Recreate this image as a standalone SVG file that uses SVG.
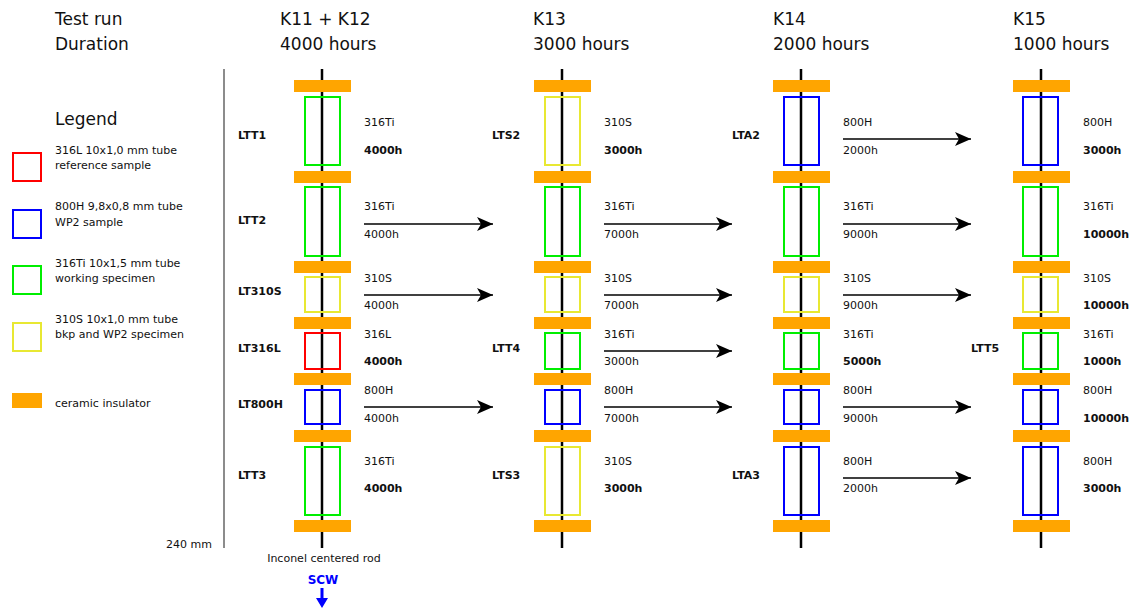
<svg xmlns="http://www.w3.org/2000/svg" width="1137" height="608" viewBox="0 0 1137 608">
  <style>
    text { font-family: "DejaVu Sans", Verdana, sans-serif; fill: #111; }
    .hd { font-size: 17px; }
    .sm { font-size: 11px; }
    .lg { font-size: 11px; }
    .id { font-size: 11px; font-weight: bold; }
    .b { font-weight: bold; }
    .rod { stroke: #000; stroke-width: 2.5; }
    .ins { fill: #ffa500; }
    .red { fill: none; stroke: #ff0000; stroke-width: 2; }
    .blu { fill: none; stroke: #0000ff; stroke-width: 2; }
    .grn { fill: none; stroke: #00ee00; stroke-width: 2; }
    .yel { fill: none; stroke: #e8e832; stroke-width: 2; }
    .arr { stroke: #000; stroke-width: 1.3; fill: none; marker-end: url(#ah); }
  </style>
  <defs>
    <marker id="ah" viewBox="0 0 16 14" refX="16" refY="7" markerWidth="16" markerHeight="14" markerUnits="userSpaceOnUse" orient="auto">
      <path d="M0,0 L16,7 L0,14 L4,7 Z" fill="#000"/>
    </marker>
    <!-- insulator stack shared by every column -->
    <g id="stack">
      <line class="rod" x1="0" y1="69" x2="0" y2="548"/>
      <rect class="ins" x="-28" y="80" width="57" height="12"/>
      <rect class="ins" x="-28" y="171" width="57" height="12"/>
      <rect class="ins" x="-28" y="261" width="57" height="12"/>
      <rect class="ins" x="-28" y="317" width="57" height="12"/>
      <rect class="ins" x="-28" y="373" width="57" height="12"/>
      <rect class="ins" x="-28" y="430" width="57" height="12"/>
      <rect class="ins" x="-28" y="520" width="57" height="12"/>
    </g>
  </defs>

  <!-- headers -->
  <g id="headers">
    <text class="hd" x="55" y="25">Test run</text>
    <text class="hd" x="55" y="50">Duration</text>
    <text class="hd" x="280" y="25">K11 + K12</text>
    <text class="hd" x="280" y="50">4000 hours</text>
    <text class="hd" x="533" y="25">K13</text>
    <text class="hd" x="533" y="50">3000 hours</text>
    <text class="hd" x="773" y="25">K14</text>
    <text class="hd" x="773" y="50">2000 hours</text>
    <text class="hd" x="1013" y="25">K15</text>
    <text class="hd" x="1013" y="50">1000 hours</text>
  </g>

  <!-- legend -->
  <g id="legend">
    <text class="hd" x="55" y="125">Legend</text>
    <rect class="red" x="13" y="153" width="28" height="28"/>
    <text class="lg" x="55" y="154">316L 10x1,0 mm tube</text>
    <text class="lg" x="55" y="169">reference sample</text>
    <rect class="blu" x="13" y="210" width="28" height="28"/>
    <text class="lg" x="55" y="210">800H 9,8x0,8 mm tube</text>
    <text class="lg" x="55" y="226">WP2 sample</text>
    <rect class="grn" x="13" y="266" width="28" height="28"/>
    <text class="lg" x="55" y="267">316Ti 10x1,5 mm tube</text>
    <text class="lg" x="55" y="282">working specimen</text>
    <rect class="yel" x="13" y="323" width="28" height="28"/>
    <text class="lg" x="55" y="323">310S 10x1,0 mm tube</text>
    <text class="lg" x="55" y="338">bkp and WP2 specimen</text>
    <rect class="ins" x="12" y="393" width="30" height="15"/>
    <text class="lg" x="55" y="407">ceramic insulator</text>
  </g>

  <!-- divider and scale -->
  <g id="scale">
    <line x1="224" y1="69" x2="224" y2="548" stroke="#666" stroke-width="1.5"/>
    <text class="sm" x="166" y="548">240 mm</text>
    <text class="sm" x="324" y="562" text-anchor="middle">Inconel centered rod</text>
    <text x="323" y="584" text-anchor="middle" style="font-size:12px;font-weight:bold;fill:#0000ff">SCW</text>
    <path d="M320.5,588 L323.5,588 L323.5,598 L328,598 L322,608 L316,598 L320.5,598 Z" fill="#0000ff"/>
  </g>

  <!-- column K11 + K12 -->
  <g id="col-k11k12">
    <use href="#stack" x="322"/>
    <rect class="grn" x="305" y="97" width="35" height="68"/>
    <rect class="grn" x="305" y="187" width="35" height="69"/>
    <rect class="yel" x="305" y="277" width="35" height="35"/>
    <rect class="red" x="305" y="333" width="35" height="36"/>
    <rect class="blu" x="305" y="390" width="35" height="34"/>
    <rect class="grn" x="305" y="447" width="35" height="68"/>
    <text class="id" x="238" y="139">LTT1</text>
    <text class="id" x="238" y="224">LTT2</text>
    <text class="id" x="238" y="295">LT310S</text>
    <text class="id" x="238" y="352">LT316L</text>
    <text class="id" x="238" y="408">LT800H</text>
    <text class="id" x="238" y="479">LTT3</text>
    <text class="sm" x="364" y="126">316Ti</text>
    <text class="sm b" x="364" y="154">4000h</text>
    <text class="sm" x="364" y="210">316Ti</text>
    <text class="sm" x="364" y="238">4000h</text>
    <text class="sm" x="364" y="282">310S</text>
    <text class="sm" x="364" y="309">4000h</text>
    <text class="sm" x="364" y="338">316L</text>
    <text class="sm b" x="364" y="365">4000h</text>
    <text class="sm" x="364" y="394">800H</text>
    <text class="sm" x="364" y="422">4000h</text>
    <text class="sm" x="364" y="465">316Ti</text>
    <text class="sm b" x="364" y="492">4000h</text>
  </g>

  <!-- column K13 -->
  <g id="col-k13">
    <use href="#stack" x="562"/>
    <rect class="yel" x="545" y="97" width="35" height="68"/>
    <rect class="grn" x="545" y="187" width="35" height="69"/>
    <rect class="yel" x="545" y="277" width="35" height="35"/>
    <rect class="grn" x="545" y="333" width="35" height="36"/>
    <rect class="blu" x="545" y="390" width="35" height="34"/>
    <rect class="yel" x="545" y="447" width="35" height="68"/>
    <text class="id" x="492" y="139">LTS2</text>
    <text class="id" x="492" y="352">LTT4</text>
    <text class="id" x="492" y="479">LTS3</text>
    <text class="sm" x="604" y="126">310S</text>
    <text class="sm b" x="604" y="154">3000h</text>
    <text class="sm" x="604" y="210">316Ti</text>
    <text class="sm" x="604" y="238">7000h</text>
    <text class="sm" x="604" y="282">310S</text>
    <text class="sm" x="604" y="309">7000h</text>
    <text class="sm" x="604" y="338">316Ti</text>
    <text class="sm" x="604" y="365">3000h</text>
    <text class="sm" x="604" y="394">800H</text>
    <text class="sm" x="604" y="422">7000h</text>
    <text class="sm" x="604" y="465">310S</text>
    <text class="sm b" x="604" y="492">3000h</text>
  </g>

  <!-- column K14 -->
  <g id="col-k14">
    <use href="#stack" x="801"/>
    <rect class="blu" x="784" y="97" width="35" height="68"/>
    <rect class="grn" x="784" y="187" width="35" height="69"/>
    <rect class="yel" x="784" y="277" width="35" height="35"/>
    <rect class="grn" x="784" y="333" width="35" height="36"/>
    <rect class="blu" x="784" y="390" width="35" height="34"/>
    <rect class="blu" x="784" y="447" width="35" height="68"/>
    <text class="id" x="732" y="139">LTA2</text>
    <text class="id" x="732" y="479">LTA3</text>
    <text class="sm" x="843" y="126">800H</text>
    <text class="sm" x="843" y="154">2000h</text>
    <text class="sm" x="843" y="210">316Ti</text>
    <text class="sm" x="843" y="238">9000h</text>
    <text class="sm" x="843" y="282">310S</text>
    <text class="sm" x="843" y="309">9000h</text>
    <text class="sm" x="843" y="338">316Ti</text>
    <text class="sm b" x="843" y="365">5000h</text>
    <text class="sm" x="843" y="394">800H</text>
    <text class="sm" x="843" y="422">9000h</text>
    <text class="sm" x="843" y="465">800H</text>
    <text class="sm" x="843" y="492">2000h</text>
  </g>

  <!-- column K15 -->
  <g id="col-k15">
    <use href="#stack" x="1041"/>
    <rect class="blu" x="1023" y="97" width="35" height="68"/>
    <rect class="grn" x="1023" y="187" width="35" height="69"/>
    <rect class="yel" x="1023" y="277" width="35" height="35"/>
    <rect class="grn" x="1023" y="333" width="35" height="36"/>
    <rect class="blu" x="1023" y="390" width="35" height="34"/>
    <rect class="blu" x="1023" y="447" width="35" height="68"/>
    <text class="id" x="971" y="352">LTT5</text>
    <text class="sm" x="1083" y="126">800H</text>
    <text class="sm b" x="1083" y="154">3000h</text>
    <text class="sm" x="1083" y="210">316Ti</text>
    <text class="sm b" x="1083" y="238">10000h</text>
    <text class="sm" x="1083" y="282">310S</text>
    <text class="sm b" x="1083" y="309">10000h</text>
    <text class="sm" x="1083" y="338">316Ti</text>
    <text class="sm b" x="1083" y="365">1000h</text>
    <text class="sm" x="1083" y="394">800H</text>
    <text class="sm b" x="1083" y="422">10000h</text>
    <text class="sm" x="1083" y="465">800H</text>
    <text class="sm b" x="1083" y="492">3000h</text>
  </g>

  <!-- transfer arrows between runs -->
  <g id="connectors">
    <line class="arr" x1="364" y1="224" x2="493" y2="224"/>
    <line class="arr" x1="364" y1="295" x2="493" y2="295"/>
    <line class="arr" x1="364" y1="407" x2="493" y2="407"/>
    <line class="arr" x1="604" y1="224" x2="732" y2="224"/>
    <line class="arr" x1="604" y1="295" x2="732" y2="295"/>
    <line class="arr" x1="604" y1="351" x2="732" y2="351"/>
    <line class="arr" x1="604" y1="407" x2="732" y2="407"/>
    <line class="arr" x1="843" y1="139" x2="971" y2="139"/>
    <line class="arr" x1="843" y1="224" x2="971" y2="224"/>
    <line class="arr" x1="843" y1="295" x2="971" y2="295"/>
    <line class="arr" x1="843" y1="407" x2="971" y2="407"/>
    <line class="arr" x1="843" y1="478" x2="971" y2="478"/>
  </g>
</svg>
